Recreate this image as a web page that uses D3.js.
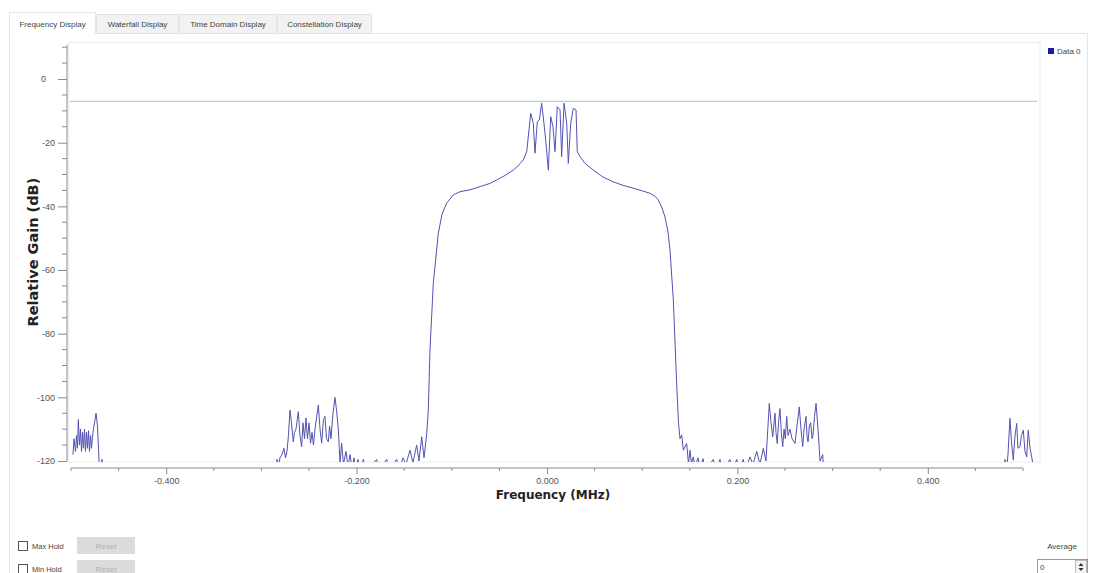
<!DOCTYPE html>
<html>
<head>
    <title>Frequency Display</title>
    <script src="https://d3js.org/d3.v7.min.js"></script>
    <style>
        body {
            margin: 0;
            padding: 0;
            background: #fff;
            font-family: "DejaVu Sans", Arial, sans-serif;
        }
        .tick text {
            font-family: "Liberation Sans", Arial, sans-serif;
            font-size: 9px;
            fill: #555;
        }
        .ui-text {
            font-family: "Liberation Sans", Arial, sans-serif;
            font-size: 8px;
            fill: #444;
        }
    </style>
</head>
<body>
    <div id="vis-container"></div>

    <script>
        const width = 1097;
        const height = 573;

        // Spectrum trace, [frequency (MHz), relative gain (dB)].
        // Values below -120 dB fall under the plot floor and are clipped away.
        const leftSpur = [
            [-0.4979, -118], [-0.4968, -113], [-0.4953, -117], [-0.4942, -112], [-0.4932, -116],
            [-0.4923, -107], [-0.4911, -115], [-0.4900, -110], [-0.4890, -117], [-0.4879, -111],
            [-0.4869, -116], [-0.4858, -110], [-0.4848, -117], [-0.4837, -111], [-0.4827, -116],
            [-0.4816, -110.5], [-0.4806, -117], [-0.4795, -112], [-0.4785, -116], [-0.4769, -111],
            [-0.4753, -108], [-0.4737, -105], [-0.4722, -109], [-0.4711, -116], [-0.4704, -121],
            [-0.4690, -124], [-0.4674, -119.5], [-0.4660, -125]
        ];
        const leftAdjacent = [
            [-0.2850, -125], [-0.2836, -119.5], [-0.2820, -122], [-0.2805, -119], [-0.2784, -118],
            [-0.2763, -116], [-0.2747, -119], [-0.2731, -117], [-0.2716, -112], [-0.2700, -104],
            [-0.2684, -108], [-0.2665, -114], [-0.2652, -111], [-0.2637, -110], [-0.2612, -104.5],
            [-0.2595, -112], [-0.2577, -115.5], [-0.2563, -108], [-0.2547, -113], [-0.2532, -106.5],
            [-0.2516, -113], [-0.2500, -108], [-0.2484, -114.4], [-0.2468, -111], [-0.2453, -115],
            [-0.2437, -110], [-0.2402, -102.4], [-0.2384, -110], [-0.2367, -114.4], [-0.2348, -107],
            [-0.2332, -106], [-0.2316, -113], [-0.2297, -114], [-0.2284, -109], [-0.2269, -113],
            [-0.2248, -105], [-0.2227, -100], [-0.2211, -104], [-0.2192, -110],
            [-0.2174, -120.5], [-0.2157, -114.4], [-0.2138, -121], [-0.2111, -117], [-0.2090, -122],
            [-0.2069, -118], [-0.2048, -122], [-0.2027, -119], [-0.2012, -123], [-0.1985, -119.5],
            [-0.1964, -123], [-0.1929, -119.5], [-0.1901, -123], [-0.1789, -119.5], [-0.1765, -123],
            [-0.1684, -119.5], [-0.1660, -123], [-0.1579, -119.5], [-0.1555, -123], [-0.1513, -119],
            [-0.1481, -121], [-0.1439, -116.6], [-0.1408, -120.5], [-0.1369, -115], [-0.1345, -120],
            [-0.1316, -112.4], [-0.1292, -119], [-0.1263, -111.3]
        ];
        const mainChannel = [
            [-0.1247, -104], [-0.1229, -85], [-0.1194, -64], [-0.1142, -48.5], [-0.1103, -42.5],
            [-0.1054, -39], [-0.0984, -36.4], [-0.0914, -35.4], [-0.0809, -34.8], [-0.0704, -33.8],
            [-0.0599, -32.8], [-0.0528, -31.7], [-0.0441, -30.3], [-0.0354, -28.6], [-0.0305, -27.3],
            [-0.0249, -25.4], [-0.0213, -22.8], [-0.0171, -10.8], [-0.0144, -13.9], [-0.0126, -23.3],
            [-0.0102, -13.4], [-0.0081, -12.9], [-0.0056, -7.6], [-0.0032, -13.9], [-0.0011, -20],
            [0.0014, -28.6], [0.0039, -11.8], [0.0063, -15], [0.0084, -22.8], [0.0108, -8.7],
            [0.0137, -9.7], [0.0154, -24.4], [0.0179, -7.6], [0.0207, -13.9], [0.0224, -26.5],
            [0.0249, -13.9], [0.0276, -9.2], [0.0305, -9.7], [0.0318, -22.8], [0.0347, -24.4],
            [0.0399, -26.5], [0.0486, -28.6], [0.0588, -30.8], [0.0696, -32.3], [0.0798, -33.4],
            [0.0907, -34.3], [0.1008, -35.2], [0.1082, -35.9], [0.1134, -36.8], [0.1169, -38],
            [0.1208, -40.5], [0.1239, -43.3], [0.1271, -48], [0.1292, -53.7], [0.1327, -69.4],
            [0.1362, -95.6], [0.1381, -108], [0.1397, -113]
        ];
        const rightAdjacent = [
            [0.1415, -111.8], [0.1432, -116.6], [0.1467, -114.5], [0.1486, -121], [0.1502, -116.6],
            [0.1518, -121], [0.1537, -118.7], [0.1555, -122], [0.1586, -119], [0.1607, -122],
            [0.1639, -119.3], [0.1660, -123], [0.1747, -119.5], [0.1770, -123], [0.1817, -119.5],
            [0.1840, -123], [0.1922, -119.5], [0.1945, -123], [0.1993, -119.5], [0.2015, -123],
            [0.2062, -119.5], [0.2085, -123], [0.2132, -118.7], [0.2164, -121], [0.2203, -117],
            [0.2237, -121], [0.2272, -116], [0.2300, -120], [0.2335, -101.9], [0.2353, -108],
            [0.2371, -112.4], [0.2395, -105], [0.2405, -111], [0.2419, -114.5], [0.2432, -108],
            [0.2447, -103.5], [0.2461, -111], [0.2476, -115.5], [0.2490, -110], [0.2503, -113],
            [0.2518, -106], [0.2532, -112], [0.2552, -110], [0.2574, -113], [0.2605, -114.5],
            [0.2626, -109], [0.2650, -103], [0.2668, -110], [0.2686, -115.5], [0.2700, -110],
            [0.2721, -106], [0.2731, -112], [0.2742, -114], [0.2756, -109], [0.2770, -108],
            [0.2784, -113], [0.2794, -112], [0.2810, -106], [0.2826, -101.9], [0.2847, -110],
            [0.2868, -120], [0.2896, -118], [0.2910, -125]
        ];
        const rightSpur = [
            [0.4795, -125], [0.4811, -119.5], [0.4825, -124], [0.4842, -118], [0.4863, -106.6],
            [0.4879, -114], [0.4898, -119.7], [0.4916, -112], [0.4934, -108.2], [0.4947, -116],
            [0.4968, -115.5], [0.4984, -112], [0.5003, -110.3], [0.5021, -117], [0.5039, -118.7],
            [0.5055, -110.3], [0.5074, -116], [0.5091, -118.7], [0.5105, -121]
        ];
        const referenceLevel = -7;

        const yMajorTicks = [-120, -100, -80, -60, -40, -20, 0];
        const yMinorTicks = d3.range(-120, 10.1, 5);
        const xMajorTicks = [-0.4, -0.2, 0, 0.2, 0.4];
        const xMinorTicks = d3.range(-0.5, 0.501, 0.05);

        const tabLabels = ['Frequency Display', 'Waterfall Display', 'Time Domain Display', 'Constellation Display'];
        const legendLabel = 'Data 0';

        const svg = d3.select('#vis-container')
            .append('svg')
            .attr('width', width)
            .attr('height', height)
            .attr('viewBox', [0, 0, width, height]);

        // ---- tab bar ----
        const tabX = [9, 96, 179, 277, 372];
        svg.append('rect')
            .attr('x', 9.5).attr('y', 33.5).attr('width', 1078).attr('height', 545)
            .attr('fill', '#fff').attr('stroke', '#e6e6e6');
        const tabs = svg.selectAll('g.tab')
            .data(tabLabels)
            .join('g')
            .attr('class', 'tab');
        tabs.append('rect')
            .attr('x', (d, i) => tabX[i] + 0.5)
            .attr('y', (d, i) => i === 0 ? 12.5 : 14.5)
            .attr('width', (d, i) => tabX[i + 1] - tabX[i] - 1)
            .attr('height', (d, i) => i === 0 ? 21 : 19)
            .attr('fill', (d, i) => i === 0 ? '#fff' : '#f2f2f2')
            .attr('stroke', '#e4e4e4');
        tabs.append('text')
            .attr('class', 'ui-text')
            .attr('x', (d, i) => (tabX[i] + tabX[i + 1]) / 2)
            .attr('y', 27)
            .attr('text-anchor', 'middle')
            .text(d => d);
        // hide the line under the selected tab
        svg.append('line')
            .attr('x1', tabX[0] + 1).attr('x2', tabX[1] - 1)
            .attr('y1', 33.5).attr('y2', 33.5)
            .attr('stroke', '#fff');

        // ---- plot ----
        const x = d3.scaleLinear().domain([-0.5, 0.5]).range([71, 1023]);
        const y = d3.scaleLinear().domain([-120, 10]).range([461, 47.2]);

        const canvas = { x0: 68.5, y0: 42.5, x1: 1040, y1: 462 };

        svg.append('rect')
            .attr('x', canvas.x0).attr('y', canvas.y0)
            .attr('width', canvas.x1 - canvas.x0).attr('height', canvas.y1 - canvas.y0)
            .attr('fill', '#fff').attr('stroke', '#ececec');

        svg.append('clipPath')
            .attr('id', 'canvas-clip')
            .append('rect')
            .attr('x', canvas.x0).attr('y', canvas.y0)
            .attr('width', canvas.x1 - canvas.x0).attr('height', y(-120) + 1 - canvas.y0);

        // reference marker line
        svg.append('line')
            .attr('x1', canvas.x0 + 1).attr('x2', canvas.x1 - 3)
            .attr('y1', y(referenceLevel)).attr('y2', y(referenceLevel))
            .attr('stroke', '#8ed3c3').attr('stroke-width', 1);

        const trace = [...leftSpur, ...leftAdjacent, ...mainChannel, ...rightAdjacent, ...rightSpur];
        const line = d3.line()
            .x(d => x(d[0]))
            .y(d => y(d[1]));

        svg.append('path')
            .datum(trace)
            .attr('clip-path', 'url(#canvas-clip)')
            .attr('fill', 'none')
            .attr('stroke', '#5252b2')
            .attr('stroke-width', 1)
            .attr('stroke-linejoin', 'round')
            .attr('d', line);

        // ---- y axis ----
        const yAxis = svg.append('g')
            .attr('transform', 'translate(67,0)')
            .call(d3.axisLeft(y).tickValues(yMajorTicks).tickSize(9).tickPadding(3).tickFormat(d => String(d)));
        yAxis.append('g')
            .selectAll('line')
            .data(yMinorTicks.filter(d => !yMajorTicks.includes(d)))
            .join('line')
            .attr('x1', -5).attr('x2', 0)
            .attr('y1', d => y(d)).attr('y2', d => y(d));
        yAxis.select('.domain').attr('d', `M0,${y(-120)}V${y(10) - 2}`);
        // the zero label sits further left in the original widget
        yAxis.selectAll('.tick').filter(d => d === 0).select('text').attr('dx', -9);

        // ---- x axis ----
        const xAxis = svg.append('g')
            .attr('transform', 'translate(0,468)')
            .call(d3.axisBottom(x).tickValues(xMajorTicks).tickSize(6).tickPadding(4).tickFormat(d => d.toFixed(3)));
        xAxis.append('g')
            .selectAll('line')
            .data(xMinorTicks.filter(d => !xMajorTicks.some(m => Math.abs(m - d) < 1e-6)))
            .join('line')
            .attr('x1', d => x(d)).attr('x2', d => x(d))
            .attr('y1', 0).attr('y2', 3);
        xAxis.select('.domain').attr('d', `M${x(-0.5)},0H${x(0.5)}`);

        svg.selectAll('.domain, .tick line').attr('stroke', '#8a8a8a');
        xAxis.selectAll('g > line').attr('stroke', '#8a8a8a');
        yAxis.selectAll('g > line').attr('stroke', '#8a8a8a');

        svg.append('text')
            .attr('transform', `translate(38,${(y(-120) + y(10)) / 2 - 2}) rotate(-90)`)
            .attr('text-anchor', 'middle')
            .attr('font-weight', 'bold')
            .attr('font-size', 14.5)
            .attr('fill', '#222')
            .text('Relative Gain (dB)');

        svg.append('text')
            .attr('x', x(0) + 6)
            .attr('y', 499)
            .attr('text-anchor', 'middle')
            .attr('font-weight', 'bold')
            .attr('font-size', 12)
            .attr('fill', '#222')
            .text('Frequency (MHz)');

        // ---- legend ----
        svg.append('rect')
            .attr('x', 1048).attr('y', 48).attr('width', 6).attr('height', 6)
            .attr('fill', '#1a1aa6');
        svg.append('text')
            .attr('class', 'ui-text')
            .attr('x', 1057).attr('y', 54)
            .text(legendLabel);

        // ---- bottom controls ----
        const holds = ['Max Hold', 'Min Hold'];
        const rows = svg.selectAll('g.hold')
            .data(holds)
            .join('g')
            .attr('class', 'hold')
            .attr('transform', (d, i) => `translate(0,${541 + i * 23})`);
        rows.append('rect')
            .attr('x', 18.5).attr('y', 0.5).attr('width', 9).attr('height', 9)
            .attr('fill', '#fff').attr('stroke', '#555');
        rows.append('text')
            .attr('class', 'ui-text')
            .attr('x', 32).attr('y', 8)
            .style('font-size', '7.5px')
            .text(d => d);
        rows.append('rect')
            .attr('x', 77).attr('y', -4).attr('width', 58).attr('height', 17)
            .attr('fill', '#dcdcdc');
        rows.append('text')
            .attr('class', 'ui-text')
            .attr('x', 106).attr('y', 7.5)
            .attr('text-anchor', 'middle')
            .style('fill', '#b0b0b0')
            .text('Reset');

        svg.append('text')
            .attr('class', 'ui-text')
            .attr('x', 1062).attr('y', 549)
            .attr('text-anchor', 'middle')
            .text('Average');
        svg.append('rect')
            .attr('x', 1037.5).attr('y', 559.5).attr('width', 50).attr('height', 15)
            .attr('fill', '#fff').attr('stroke', '#999');
        svg.append('text')
            .attr('class', 'ui-text')
            .attr('x', 1040).attr('y', 570)
            .text('0');
        svg.append('rect')
            .attr('x', 1075.5).attr('y', 560.5).attr('width', 11).attr('height', 13)
            .attr('fill', '#f2f2f2').attr('stroke', '#bbb');
        svg.append('path')
            .attr('d', 'M1078.5,566 L1081,563 L1083.5,566 Z M1078.5,568 L1081,571 L1083.5,568 Z')
            .attr('fill', '#333');
    </script>
</body>
</html>
